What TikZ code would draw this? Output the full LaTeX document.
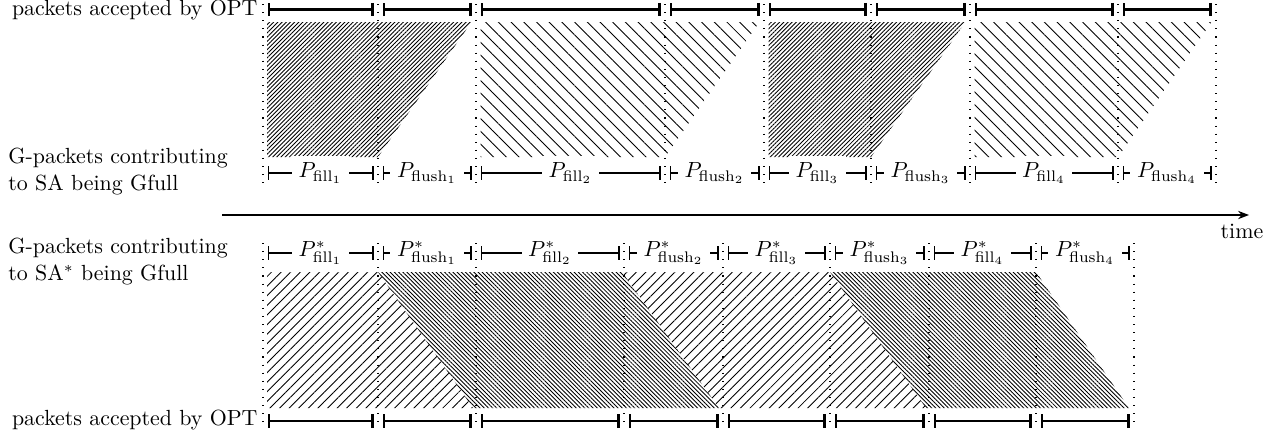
\documentclass[tikz,border=0pt]{standalone}
\usetikzlibrary{patterns.meta,arrows.meta}
\begin{document}
\begin{tikzpicture}[x=0.4566pt,y=-0.4566pt,
  optbar/.style={line width=0.95pt,{Bar[width=6pt]}-{Bar[width=6pt]}},
  lblbar/.style={line width=0.7pt,{Bar[width=6pt]}-{Bar[width=6pt]}},
  sepline/.style={line width=0.5pt,dash pattern=on 0.5pt off 3.2pt},
  lbl/.style={fill=white,inner sep=3pt},
  txt/.style={inner sep=0pt},
  denseNE/.style={pattern={Lines[angle=45,distance=1.35pt,line width=0.4pt]}},
  denseNW/.style={pattern={Lines[angle=-45,distance=1.35pt,line width=0.4pt]}},
  sparseNE/.style={pattern={Lines[angle=45,distance=3.1pt,line width=0.4pt]}},
  sparseNW/.style={pattern={Lines[angle=-45,distance=4.1pt,line width=0.4pt]}},
]
\useasboundingbox (0,0) rectangle (1280,438);

% ---------- top hatched regions ----------
\pattern[denseNE]  (267,22) -- (471.5,22) -- (378,157) -- (267,157) -- cycle;
\pattern[sparseNW] (480.5,22) -- (759.5,22) -- (665,157) -- (480.5,157) -- cycle;
\pattern[denseNE]  (768.5,22) -- (965.5,22) -- (871,157) -- (768.5,157) -- cycle;
\pattern[sparseNW] (974.5,22) -- (1211.5,22) -- (1118,157) -- (974.5,157) -- cycle;

% ---------- bottom hatched regions ----------
\pattern[sparseNE] (267,272) -- (378,272) -- (473,408) -- (267,408) -- cycle;
\pattern[denseNW]  (378,272) -- (622,272) -- (719,408) -- (473,408) -- cycle;
\pattern[sparseNE] (622,272) -- (830,272) -- (926,408) -- (719,408) -- cycle;
\pattern[denseNW]  (830,272) -- (1036,272) -- (1129,408) -- (926,408) -- cycle;

% ---------- top separators ----------
\foreach \x [count=\i] in {263,378,476,665,764,871,970,1118,1216} {
  \coordinate (tu\i) at (\x,4);
  \coordinate (td\i) at (\x,186);
  \draw[sepline] (tu\i) -- (td\i);
}
% ---------- bottom separators ----------
\foreach \x [count=\i] in {263,378,476,624,723,830,929,1036,1134} {
  \coordinate (bu\i) at (\x,243);
  \coordinate (bd\i) at (\x,426);
  \draw[sepline] (bu\i) -- (bd\i);
}

% ---------- top intervals ----------
\foreach \a/\b/\lab [count=\i] in {
  263/378/{P_{\mathrm{fill}_1}}, 378/476/{P_{\mathrm{flush}_1}},
  476/665/{P_{\mathrm{fill}_2}}, 665/764/{P_{\mathrm{flush}_2}},
  764/871/{P_{\mathrm{fill}_3}}, 871/970/{P_{\mathrm{flush}_3}},
  970/1118/{P_{\mathrm{fill}_4}}, 1118/1216/{P_{\mathrm{flush}_4}}} {
  \coordinate (toa\i) at (\a+4.5,9.5);
  \coordinate (tob\i) at (\b-4.5,9.5);
  \draw[optbar] (toa\i) -- (tob\i);
  \coordinate (tla\i) at (\a+4.5,173);
  \coordinate (tlb\i) at (\b-4.5,173);
  \draw[lblbar] (tla\i) -- node[lbl] (tL\i) {$\lab$} (tlb\i);
}

% ---------- bottom intervals ----------
\foreach \a/\b/\lab [count=\i] in {
  263/378/{P^*_{\mathrm{fill}_1}}, 378/476/{P^*_{\mathrm{flush}_1}},
  476/624/{P^*_{\mathrm{fill}_2}}, 624/723/{P^*_{\mathrm{flush}_2}},
  723/830/{P^*_{\mathrm{fill}_3}}, 830/929/{P^*_{\mathrm{flush}_3}},
  929/1036/{P^*_{\mathrm{fill}_4}}, 1036/1134/{P^*_{\mathrm{flush}_4}}} {
  \coordinate (boa\i) at (\a+4.5,421);
  \coordinate (bob\i) at (\b-4.5,421);
  \draw[optbar] (boa\i) -- (bob\i);
  \coordinate (bla\i) at (\a+4.5,253);
  \coordinate (blb\i) at (\b-4.5,253);
  \draw[lblbar] (bla\i) -- node[lbl] (bL\i) {$\lab$} (blb\i);
}

% ---------- time axis ----------
\coordinate (ts) at (222,215);
\coordinate (te) at (1249,215);
\draw[line width=0.6pt,-{Stealth[length=5pt,width=3.8pt]}] (ts) -- (te);
\node (time) at (1242,231) {time};

% ---------- left texts ----------
\node[txt,anchor=east] (optT) at (258,9.7) {packets accepted by OPT};
\node[txt,anchor=north west,align=left] (gT) at (8,148) {G-packets contributing\\to SA being Gfull};
\node[txt,anchor=north west,align=left] (gB) at (8,238) {G-packets contributing\\to SA$^*$ being Gfull};
\node[txt,anchor=east] (optB) at (258,420) {packets accepted by OPT};
\end{tikzpicture}
\end{document}
